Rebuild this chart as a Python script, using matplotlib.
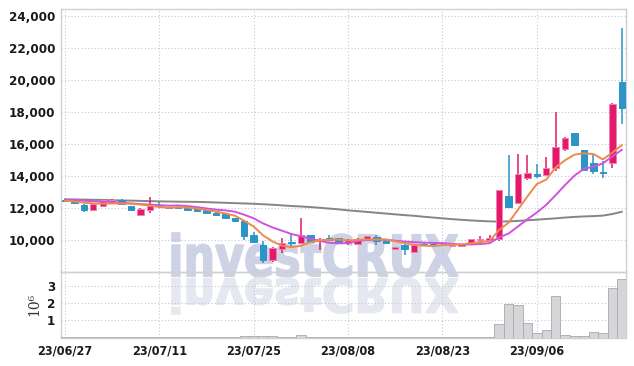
import matplotlib
matplotlib.use('Agg')
import matplotlib.pyplot as plt
import matplotlib.transforms as mtransforms
from matplotlib.textpath import TextPath
from matplotlib.patches import PathPatch
from matplotlib.font_manager import FontProperties
from matplotlib.ticker import FuncFormatter
import numpy as np

# 거래일 (23/06/27 ~ 23/09/19)
dates = ['23/06/27', '23/06/28', '23/06/29', '23/06/30', '23/07/03', '23/07/04', '23/07/05',
         '23/07/06', '23/07/07', '23/07/10', '23/07/11', '23/07/12', '23/07/13', '23/07/14',
         '23/07/17', '23/07/18', '23/07/19', '23/07/20', '23/07/21', '23/07/24', '23/07/25',
         '23/07/26', '23/07/27', '23/07/28', '23/07/31', '23/08/01', '23/08/02', '23/08/03',
         '23/08/04', '23/08/07', '23/08/08', '23/08/09', '23/08/10', '23/08/11', '23/08/14',
         '23/08/16', '23/08/17', '23/08/18', '23/08/21', '23/08/22', '23/08/23', '23/08/24',
         '23/08/25', '23/08/28', '23/08/29', '23/08/30', '23/08/31', '23/09/01', '23/09/04',
         '23/09/05', '23/09/06', '23/09/07', '23/09/08', '23/09/11', '23/09/12', '23/09/13',
         '23/09/14', '23/09/15', '23/09/18', '23/09/19']

opens = [12500, 12400, 12200, 11850, 12100, 12350, 12500, 12100, 11580, 11900,
         12150, 12050, 12060, 12050, 11990, 11890, 11700, 11620, 11370, 11200,
         10290, 9700, 8730, 9440, 9850, 9810, 10290, 9960, 10100, 10120,
         9820, 9750, 9980, 10160, 10060, 9450, 9660, 9250, 9750, 9740,
         9830, 9620, 9620, 9760, 10020, 9980, 10060, 12760, 12300, 13870,
         14120, 14070, 14490, 15650, 16670, 15630, 14800, 14250, 14800, 19870]
highs = [12520, 12420, 12230, 12280, 12500, 12560, 12530, 12130, 11980, 12680,
         12400, 12080, 12100, 12060, 12000, 11900, 11720, 11640, 11380, 11210,
         10500, 9910, 9580, 10120, 10440, 11370, 10330, 10100, 10330, 10130,
         10040, 10100, 10250, 10290, 10080, 9560, 9910, 9720, 9800, 9800,
         9850, 9750, 9770, 10080, 10250, 10330, 13110, 15320, 15380, 15320,
         14750, 15170, 17980, 16400, 16680, 15640, 15320, 14900, 18550, 23220]
lows = [12400, 12250, 11730, 11820, 12080, 12330, 12220, 11800, 11550, 11680,
        12000, 11950, 11960, 11780, 11800, 11650, 11500, 11330, 11120, 10020,
        9850, 8570, 8650, 9190, 9600, 9800, 9880, 9400, 9990, 9820,
        9700, 9730, 9960, 9700, 9800, 9440, 9090, 9230, 9650, 9650,
        9700, 9550, 9600, 9740, 9900, 9950, 9910, 12000, 12280, 13720,
        13870, 14010, 14280, 15585, 15950, 14350, 14130, 13880, 14490, 17230]
closes = [12430, 12300, 11850, 12250, 12500, 12500, 12250, 11850, 11950, 12150,
          12100, 12000, 12000, 11850, 11830, 11680, 11530, 11370, 11160, 10230,
          9880, 8780, 9500, 9810, 9790, 10290, 9900, 10080, 10000, 9850,
          10020, 10080, 10220, 9960, 9820, 9540, 9460, 9700, 9700, 9700,
          9790, 9660, 9750, 10060, 10080, 10120, 13090, 12030, 14130, 14210,
          13980, 14500, 15830, 16380, 15960, 14380, 14280, 14150, 18500, 18270]

# 이동평균
ma5 = [12450, 12400, 12330, 12280, 12266, 12280, 12270, 12270, 12210, 12140,
       12060, 12010, 12040, 12020, 11956, 11872, 11778, 11652, 11514, 11194,
       10834, 10284, 9910, 9640, 9552, 9634, 9858, 9974, 10012, 10024,
       9970, 10006, 10034, 10026, 10020, 9924, 9800, 9696, 9644, 9620,
       9670, 9710, 9720, 9792, 9868, 9934, 10620, 11076, 11890, 12716,
       13488, 13770, 14530, 14980, 15330, 15410, 15366, 15030, 15454, 15916]
ma10 = [12500, 12480, 12450, 12420, 12390, 12360, 12320, 12280, 12240, 12203,
        12170, 12140, 12155, 12115, 12048, 11966, 11894, 11846, 11767, 11575,
        11353, 11031, 10781, 10577, 10373, 10234, 10071, 9942, 9826, 9788,
        9802, 9932, 10004, 10019, 10022, 9947, 9903, 9865, 9835, 9820,
        9797, 9755, 9708, 9718, 9744, 9802, 10165, 10398, 10841, 11292,
        11711, 12195, 12803, 13435, 14023, 14449, 14568, 14780, 15217, 15623]
ma60 = [12540, 12530, 12520, 12510, 12500, 12480, 12470, 12455, 12440, 12425,
        12410, 12400, 12390, 12385, 12375, 12360, 12340, 12320, 12300, 12280,
        12260, 12230, 12200, 12160, 12120, 12090, 12055, 12010, 11960, 11910,
        11850, 11800, 11750, 11700, 11650, 11600, 11550, 11510, 11450, 11400,
        11350, 11300, 11260, 11220, 11190, 11160, 11150, 11160, 11190, 11230,
        11265, 11310, 11350, 11400, 11440, 11470, 11490, 11520, 11620, 11760]

# 거래량 (백만 주)
volume = [0.03, 0.03, 0.04, 0.03, 0.03, 0.02, 0.02, 0.03, 0.03, 0.04,
          0.03, 0.02, 0.02, 0.02, 0.02, 0.02, 0.03, 0.03, 0.04, 0.07,
          0.08, 0.10, 0.07, 0.05, 0.04, 0.15, 0.05, 0.04, 0.03, 0.03,
          0.03, 0.03, 0.03, 0.03, 0.02, 0.03, 0.04, 0.03, 0.02, 0.02,
          0.02, 0.02, 0.02, 0.03, 0.03, 0.04, 0.81, 1.96, 1.88, 0.85,
          0.27, 0.44, 2.40, 0.15, 0.10, 0.10, 0.35, 0.27, 2.87, 3.44]

UP = '#e3196b'
DOWN = '#2b95c8'
GRID = '#c2c7db'
SPINE = '#cfcfd4'

plt.rcParams['font.family'] = ['DejaVu Sans']
plt.rcParams['font.weight'] = 'bold'
plt.rcParams['font.stretch'] = 'condensed'

W, H = 634, 366
fig = plt.figure(figsize=(W / 100, H / 100), dpi=100)
ax = fig.add_axes([61 / W, 1 - 272 / H, 565 / W, 263 / H])
axv = fig.add_axes([61 / W, 1 - 337.5 / H, 565 / W, 65.5 / H], sharex=ax)

x = np.arange(len(dates))
o = np.array(opens)
c = np.array(closes)
up = c >= o
cols = np.where(up, UP, DOWN)

ax.vlines(x, lows, highs, colors=cols, lw=1.1, zorder=3)
ax.bar(x, np.maximum(np.abs(c - o), 40), bottom=np.minimum(o, c), width=0.68,
       color=cols, edgecolor=np.where(up, '#f57fae', DOWN), linewidth=0.7, zorder=4)

ax.plot(x, ma60, color='#858585', lw=1.4, zorder=2)
ax.plot(x, ma10, color='#d152e0', lw=1.4, zorder=5)
ax.plot(x, ma5, color='#ee8a4c', lw=1.4, zorder=5)

axv.bar(x, volume, width=1.0, color='#d6d6d8', edgecolor='#a9a9ad', linewidth=0.6, zorder=3)

ax.set_xlim(-0.42, 59.45)
ax.set_ylim(8000, 24420)
axv.set_ylim(0, 3.83)

ax.set_yticks(np.arange(10000, 24001, 2000))
ax.yaxis.set_major_formatter(FuncFormatter(lambda v, p: f'{v:,.0f}'))
axv.set_yticks([1, 2, 3])
tick_idx = list(range(0, 60, 10))
axv.set_xticks(tick_idx)
axv.set_xticklabels([dates[i] for i in tick_idx])
ax.tick_params(axis='x', labelbottom=False)

for a in (ax, axv):
    a.set_facecolor('none')
    a.grid(True, color=GRID, linestyle=(0, (1, 2)), lw=0.8)
    a.set_axisbelow(True)
    a.tick_params(length=0, pad=4, labelsize=9.5, labelcolor='#1a1a1a')
    for s in a.spines.values():
        s.set_color(SPINE)
        s.set_linewidth(1.0)

axv.tick_params(axis='x', pad=5, labelsize=9)
axv.set_ylabel('10⁶', fontsize=10, color='#333333', labelpad=4,
               family='DejaVu Serif', fontweight='normal', fontstretch='normal')

# 워터마크
tp = TextPath((0, 0), 'investCRUX', size=100,
              prop=FontProperties(family='DejaVu Sans', weight='bold', stretch='normal'))
bb = tp.get_extents()
to_fig = mtransforms.Affine2D().scale(1 / W, 1 / H) + fig.transFigure


def place(x0, x1, y0, y1, flip):
    sx = (x1 - x0) / bb.width
    sy = (y1 - y0) / bb.height
    t = mtransforms.Affine2D().translate(-bb.x0, -bb.y0)
    if flip:
        t = t.scale(sx, -sy).translate(x0, y1)
    else:
        t = t.scale(sx, sy).translate(x0, y0)
    return t.transform_path(tp)


wm = PathPatch(place(172, 458, H - 277, H - 233, False), facecolor='#cdd3e5',
               edgecolor='#cdd3e5', linewidth=1.2, transform=to_fig, zorder=-1)
wm_r = PathPatch(place(172, 458, H - 314, H - 278, True), facecolor='#e6e8ef',
                 edgecolor='#e6e8ef', linewidth=1.2, transform=to_fig, zorder=-1)
fig.add_artist(wm)
fig.add_artist(wm_r)

fig.savefig('out.png', dpi=100, facecolor='white')
